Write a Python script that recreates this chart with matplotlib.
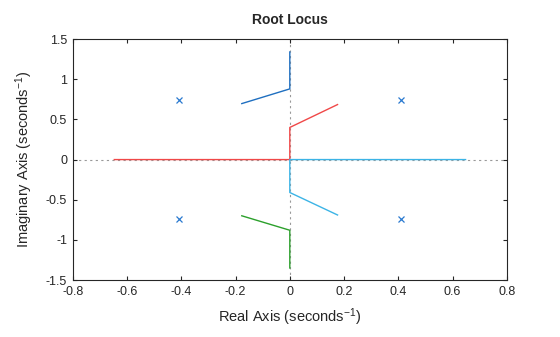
import matplotlib
matplotlib.use("Agg")
import matplotlib.pyplot as plt

plt.rcParams['font.family'] = ['Liberation Sans', 'DejaVu Sans']
plt.rcParams['mathtext.fontset'] = 'custom'
plt.rcParams['mathtext.rm'] = 'Liberation Sans'
plt.rcParams['mathtext.it'] = 'Liberation Sans'

# open-loop poles
pole_re = [-0.41, -0.41, 0.41, 0.41]
pole_im = [0.74, -0.74, 0.74, -0.74]

# locus branches (real, imag) traced from each pole
branch1_re = [-0.177, 0.0, 0.0]
branch1_im = [0.697, 0.88, 1.34]
branch2_re = [0.176, 0.0, 0.0, -0.647]
branch2_im = [0.685, 0.40, 0.0, 0.0]
branch3_re = [0.176, 0.0, 0.0, 0.648]
branch3_im = [-0.69, -0.41, 0.0, 0.0]
branch4_re = [-0.177, 0.0, 0.0]
branch4_im = [-0.70, -0.88, -1.35]

fig = plt.figure(figsize=(5.6, 3.37), dpi=100)
ax = fig.add_axes([0.130, 0.169, 0.775, 0.715])

ax.axhline(0, color='#999999', lw=0.8, dashes=(2, 3), zorder=1)
ax.axvline(0, color='#999999', lw=0.8, dashes=(2, 3), zorder=1)

ax.plot(branch1_re, branch1_im, color='#1f6fc0', lw=1)
ax.plot(branch2_re, branch2_im, color='#f04848', lw=1)
ax.plot(branch3_re, branch3_im, color='#3cb4e6', lw=1)
ax.plot(branch4_re, branch4_im, color='#2ca02c', lw=1)
ax.plot(pole_re, pole_im, 'x', color='#2a7ad0', ms=4.5, mew=0.9, ls='none')

ax.set_xlim(-0.8, 0.8)
ax.set_ylim(-1.5, 1.5)
ax.set_xticks([-0.8, -0.6, -0.4, -0.2, 0, 0.2, 0.4, 0.6, 0.8])
ax.set_xticklabels(['-0.8', '-0.6', '-0.4', '-0.2', '0', '0.2', '0.4', '0.6', '0.8'])
ax.set_yticks([-1.5, -1, -0.5, 0, 0.5, 1, 1.5])
ax.set_yticklabels(['-1.5', '-1', '-0.5', '0', '0.5', '1', '1.5'])
ax.tick_params(direction='in', top=True, right=True, length=3, width=0.8,
               labelsize=9, colors='#262626', pad=4)
for s in ax.spines.values():
    s.set_linewidth(0.8)
    s.set_color('#262626')

ax.set_xlabel(r'Real Axis (seconds$^{-1}$)', fontsize=10.5, color='#262626', labelpad=6)
ax.set_ylabel(r'Imaginary Axis (seconds$^{-1}$)', fontsize=10.5, color='#262626', labelpad=8)
ax.set_title('Root Locus', fontsize=10, fontweight='bold', color='#262626', pad=11)

fig.savefig('out.png', dpi=100)
